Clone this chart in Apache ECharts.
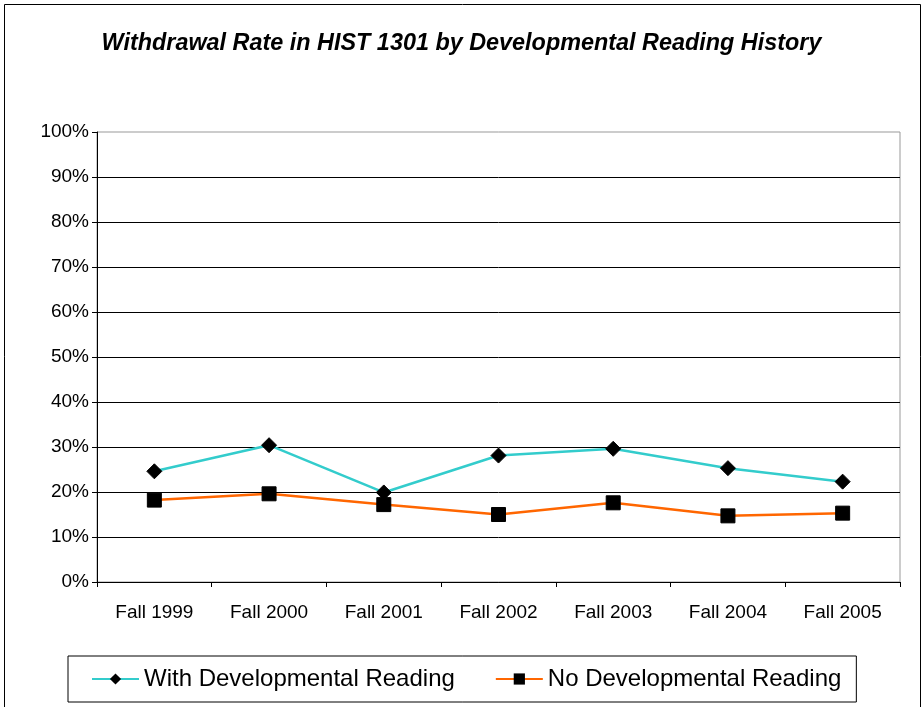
<!DOCTYPE html>
<html><head><meta charset="utf-8">
<script src="https://cdn.jsdelivr.net/npm/echarts@6/dist/echarts.min.js"></script>
<style>html,body{margin:0;padding:0;background:#fff}#c{width:923px;height:707px}</style>
</head><body><div id="c"></div>
<script>
const categories = ['Fall 1999','Fall 2000','Fall 2001','Fall 2002','Fall 2003','Fall 2004','Fall 2005'];
const withDev = [24.6, 30.4, 19.9, 28.1, 29.6, 25.3, 22.3];
const noDev = [18.2, 19.6, 17.2, 15.0, 17.6, 14.7, 15.3];
const seriesNames = ['With Developmental Reading', 'No Developmental Reading'];
const titleText = 'Withdrawal Rate in HIST 1301 by Developmental Reading History';

const chart = echarts.init(document.getElementById('c'), null, {renderer:'canvas'});
const font = 'Liberation Sans, Arial, sans-serif';
chart.setOption({
  animation:false,
  backgroundColor:'#fff',
  graphic:[{type:'rect', shape:{x:4.5,y:4.5,width:916,height:710}, style:{fill:'none', stroke:'#000', lineWidth:1}, silent:true}],
  title:{text:titleText, left:'center', top:27, textStyle:{fontFamily:font, fontSize:23.4, fontWeight:'bold', fontStyle:'italic', color:'#000'}},
  legend:{
    left:68, top:656,
    padding:[11,15,11,23],
    itemGap:40, itemWidth:47, itemHeight:14,
    borderColor:'#000', borderWidth:1,
    textStyle:{fontFamily:font, fontSize:24, color:'#000'},
    data:seriesNames
  },
  grid:{left:97, right:23, top:132, bottom:125, show:true, borderColor:'#999', borderWidth:1, containLabel:false},
  xAxis:{type:'category', data:categories, boundaryGap:true,
    axisLine:{lineStyle:{color:'#000'}}, axisTick:{show:true, alignWithLabel:false, length:5, lineStyle:{color:'#000'}},
    axisLabel:{fontFamily:font, fontSize:19, color:'#000', margin:21}},
  yAxis:{type:'value', min:0, max:100, interval:10,
    axisLine:{show:true, lineStyle:{color:'#000'}}, axisTick:{show:true, length:5, lineStyle:{color:'#000'}},
    axisLabel:{fontFamily:font, fontSize:19, color:'#000', formatter:'{value}%', margin:8},
    splitLine:{showMaxLine:false, lineStyle:{color:'#000', width:1}}},
  series:[
    {name:seriesNames[0], type:'line', data:withDev, symbol:'diamond', symbolSize:15,
      lineStyle:{color:'#33CCCC', width:2.5}, itemStyle:{color:'#000', borderColor:'#000'}, color:'#33CCCC'},
    {name:seriesNames[1], type:'line', data:noDev, symbol:'rect', symbolSize:14,
      lineStyle:{color:'#FF6600', width:2.5}, itemStyle:{color:'#000', borderColor:'#000'}, color:'#FF6600'}
  ]
});
</script></body></html>
